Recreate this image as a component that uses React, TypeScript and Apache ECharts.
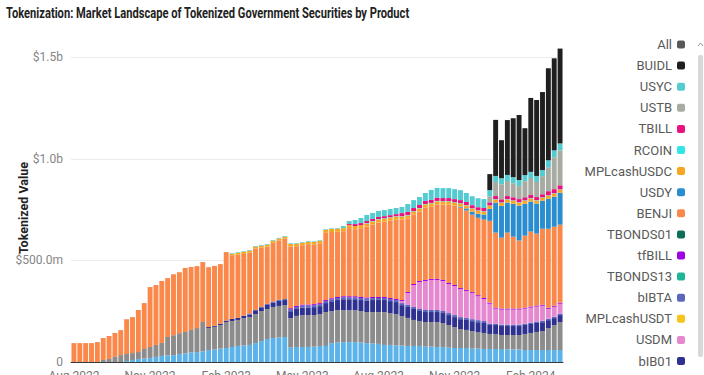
import { useEffect, useRef } from "react";
import * as echarts from "echarts";

const TITLE = "Tokenization: Market Landscape of Tokenized Government Securities by Product";
const Y_NAME = "Tokenized Value";
const MONTHS = ["Jan", "Feb", "Mar", "Apr", "May", "Jun", "Jul", "Aug", "Sep", "Oct", "Nov", "Dec"];
const START_WEEK = Date.UTC(2022, 7, 7);
const WEEK_COUNT = 84;
const CATEGORIES: string[] = Array.from({ length: WEEK_COUNT }, (_, i) =>
  new Date(START_WEEK + i * 7 * 86400000).toISOString().slice(0, 10)
);

// values in millions of USD
const OUSG = [
  0, 0, 0, 0, 0, 0, 0, 0, 0, 5,
  10, 15, 17, 20, 25, 30, 32, 34, 39, 42,
  47, 49, 52, 59, 62, 66, 69, 74, 79, 81,
  84, 93, 103, 113, 118, 121, 123, 71, 74, 74,
  74, 76, 79, 79, 93, 96, 98, 98, 98, 96,
  93, 91, 89, 84, 84, 81, 81, 79, 79, 79,
  76, 76, 74, 74, 71, 69, 69, 69, 66, 66,
  64, 64, 64, 64, 62, 62, 62, 59, 59, 59,
  59, 59, 59, 59,
];
const STBT = [
  0, 0, 0, 0, 0, 10, 15, 25, 34, 34,
  34, 34, 47, 54, 59, 64, 91, 98, 103, 106,
  111, 118, 145, 108, 111, 116, 128, 128, 128, 135,
  138, 143, 148, 148, 153, 155, 157, 145, 153, 157,
  157, 155, 157, 167, 157, 160, 157, 157, 157, 155,
  153, 155, 157, 162, 157, 155, 145, 138, 128, 123,
  121, 121, 123, 118, 111, 103, 93, 89, 86, 81,
  79, 74, 74, 69, 71, 71, 71, 79, 84, 89,
  93, 108, 123, 138,
];
const BIB01 = [
  0, 0, 0, 0, 0, 0, 0, 0, 0, 0,
  0, 0, 0, 0, 0, 0, 0, 0, 0, 0,
  0, 0, 0, 5, 5, 7, 7, 10, 10, 12,
  12, 15, 15, 20, 22, 25, 25, 34, 34, 37,
  37, 39, 39, 44, 49, 49, 54, 54, 54, 54,
  57, 59, 59, 59, 59, 59, 54, 54, 54, 49,
  49, 49, 49, 49, 49, 49, 49, 49, 49, 49,
  49, 44, 44, 44, 44, 44, 44, 44, 44, 44,
  44, 39, 34, 34,
];
const BIBTA = [
  0, 0, 0, 0, 0, 0, 0, 0, 0, 0,
  0, 0, 0, 0, 0, 0, 0, 0, 0, 0,
  0, 0, 0, 0, 0, 0, 0, 0, 0, 0,
  5, 5, 5, 5, 5, 5, 5, 10, 10, 10,
  10, 10, 10, 10, 10, 10, 10, 10, 10, 10,
  10, 10, 10, 10, 10, 10, 10, 10, 10, 10,
  10, 10, 10, 10, 10, 10, 10, 10, 10, 10,
  10, 7, 7, 7, 7, 7, 7, 7, 7, 7,
  7, 7, 7, 7,
];
const USDM = [
  0, 0, 0, 0, 0, 0, 0, 0, 0, 0,
  0, 0, 0, 0, 0, 0, 0, 0, 0, 0,
  0, 0, 0, 0, 0, 0, 0, 0, 0, 0,
  0, 0, 0, 0, 0, 0, 0, 0, 0, 0,
  0, 0, 0, 0, 0, 0, 0, 0, 0, 0,
  0, 0, 0, 0, 0, 0, 10, 59, 108, 133,
  143, 148, 148, 148, 143, 143, 138, 133, 128, 118,
  108, 98, 74, 74, 74, 74, 74, 74, 74, 74,
  74, 49, 49, 49,
];
const TFBILL = [
  0, 0, 0, 0, 0, 0, 0, 0, 0, 0,
  0, 0, 0, 0, 0, 0, 0, 0, 0, 0,
  0, 0, 0, 0, 0, 0, 0, 0, 0, 0,
  0, 0, 0, 0, 0, 0, 0, 5, 5, 5,
  5, 5, 5, 5, 5, 5, 5, 5, 5, 5,
  5, 5, 5, 5, 5, 5, 5, 5, 5, 5,
  5, 5, 5, 5, 5, 5, 5, 5, 5, 5,
  5, 5, 5, 5, 5, 5, 5, 5, 5, 5,
  5, 5, 5, 5,
];
const BENJI = [
  93, 93, 93, 93, 98, 108, 113, 118, 123, 172,
  177, 207, 226, 295, 295, 305, 290, 300, 300, 315,
  310, 305, 295, 295, 295, 293, 337, 314, 311, 304,
  299, 302, 292, 282, 289, 292, 297, 304, 294, 292,
  297, 294, 294, 331, 326, 321, 320, 335, 330, 339,
  349, 357, 367, 371, 381, 391, 396, 362, 342, 342,
  357, 357, 367, 371, 386, 391, 396, 391, 381, 381,
  386, 403, 369, 349, 374, 354, 335, 354, 369, 354,
  374, 389, 389, 384,
];
const USDY = [
  0, 0, 0, 0, 0, 0, 0, 0, 0, 0,
  0, 0, 0, 0, 0, 0, 0, 0, 0, 0,
  0, 0, 0, 0, 0, 0, 0, 0, 0, 0,
  0, 0, 0, 0, 0, 0, 0, 0, 0, 0,
  0, 0, 0, 0, 0, 0, 0, 0, 0, 0,
  0, 0, 0, 0, 0, 0, 0, 0, 0, 0,
  0, 0, 0, 0, 0, 0, 5, 10, 15, 20,
  25, 59, 148, 157, 148, 162, 172, 157, 148, 148,
  138, 148, 148, 157,
];
const MPLCASH_USDC = [
  0, 0, 0, 0, 0, 0, 0, 0, 0, 0,
  0, 0, 0, 0, 0, 0, 0, 0, 0, 0,
  0, 0, 0, 0, 0, 0, 0, 7, 10, 10,
  10, 10, 10, 10, 10, 10, 10, 12, 12, 12,
  12, 12, 12, 15, 15, 15, 15, 15, 15, 15,
  15, 15, 15, 15, 15, 15, 15, 15, 15, 15,
  15, 15, 15, 15, 15, 15, 15, 15, 15, 15,
  15, 15, 15, 15, 15, 15, 15, 15, 15, 15,
  15, 15, 15, 15,
];
const RCOIN = [
  0, 0, 0, 0, 0, 0, 0, 0, 0, 0,
  0, 0, 0, 0, 0, 0, 0, 0, 0, 0,
  0, 0, 0, 0, 0, 0, 0, 0, 0, 0,
  0, 0, 0, 0, 0, 0, 0, 0, 0, 0,
  0, 0, 0, 0, 0, 0, 0, 0, 0, 0,
  2, 2, 2, 2, 2, 2, 2, 2, 2, 2,
  2, 2, 2, 2, 2, 2, 2, 2, 2, 2,
  2, 2, 2, 2, 2, 2, 2, 2, 2, 2,
  2, 2, 2, 2,
];
const TBILL = [
  0, 0, 0, 0, 0, 0, 0, 0, 0, 0,
  0, 0, 0, 0, 0, 0, 0, 0, 0, 0,
  0, 0, 0, 0, 0, 0, 0, 0, 0, 0,
  0, 0, 0, 0, 0, 0, 0, 0, 0, 0,
  0, 0, 0, 0, 0, 0, 0, 5, 10, 10,
  10, 10, 10, 10, 10, 10, 15, 15, 15, 15,
  15, 15, 15, 15, 15, 15, 15, 15, 15, 15,
  15, 15, 15, 15, 15, 15, 15, 15, 15, 15,
  15, 20, 20, 20,
];
const USTB = [
  0, 0, 0, 0, 0, 0, 0, 0, 0, 0,
  0, 0, 0, 0, 0, 0, 0, 0, 0, 0,
  0, 0, 0, 0, 0, 0, 0, 0, 0, 0,
  0, 0, 0, 0, 0, 0, 0, 0, 0, 0,
  0, 0, 0, 0, 0, 0, 0, 0, 0, 0,
  0, 0, 0, 0, 0, 0, 0, 0, 0, 0,
  0, 0, 0, 0, 0, 0, 0, 0, 0, 0,
  0, 30, 69, 74, 74, 69, 64, 79, 84, 74,
  89, 118, 157, 172,
];
const USYC = [
  0, 0, 0, 0, 0, 0, 0, 0, 0, 0,
  0, 0, 0, 0, 0, 0, 0, 0, 0, 0,
  0, 0, 0, 0, 0, 0, 0, 3, 3, 3,
  3, 3, 3, 3, 3, 3, 3, 3, 3, 3,
  3, 3, 3, 3, 3, 3, 10, 15, 20, 25,
  30, 30, 30, 30, 30, 30, 30, 39, 39, 39,
  39, 49, 49, 49, 49, 49, 49, 44, 44, 44,
  44, 30, 30, 30, 30, 30, 30, 30, 30, 30,
  30, 34, 34, 34,
];
const BUIDL = [
  0, 0, 0, 0, 0, 0, 0, 0, 0, 0,
  0, 0, 0, 0, 0, 0, 0, 0, 0, 0,
  0, 0, 0, 0, 0, 0, 0, 0, 0, 0,
  0, 0, 0, 0, 0, 0, 0, 0, 0, 0,
  0, 0, 0, 0, 0, 0, 0, 0, 0, 0,
  0, 0, 0, 0, 0, 0, 0, 0, 0, 0,
  0, 0, 0, 0, 0, 0, 0, 0, 0, 0,
  0, 79, 276, 187, 270, 290, 320, 231, 364, 374,
  384, 453, 453, 467,
];
const EMPTY: number[] = [];

const LEGEND_ITEMS = [
  "All", "BUIDL", "USYC", "USTB", "TBILL", "RCOIN", "MPLcashUSDC", "USDY", "BENJI",
  "TBONDS01", "tfBILL", "TBONDS13", "bIBTA", "MPLcashUSDT", "USDM", "bIB01",
];

// stacking order, bottom to top
const SERIES_DEFS: { name: string; color: string; data: number[] }[] = [
  { name: "All", color: "#595959", data: EMPTY },
  { name: "OUSG", color: "#5cb3ea", data: OUSG },
  { name: "STBT", color: "#8c8c8c", data: STBT },
  { name: "bIB01", color: "#2f3190", data: BIB01 },
  { name: "bIBTA", color: "#5c66bd", data: BIBTA },
  { name: "USDM", color: "#e688d0", data: USDM },
  { name: "MPLcashUSDT", color: "#f6c41c", data: EMPTY },
  { name: "TBONDS13", color: "#1fb498", data: EMPTY },
  { name: "tfBILL", color: "#a000e4", data: TFBILL },
  { name: "TBONDS01", color: "#0b6e5b", data: EMPTY },
  { name: "BENJI", color: "#f9884a", data: BENJI },
  { name: "USDY", color: "#2a8dcf", data: USDY },
  { name: "MPLcashUSDC", color: "#f6a623", data: MPLCASH_USDC },
  { name: "RCOIN", color: "#2fe6e6", data: RCOIN },
  { name: "TBILL", color: "#e8127f", data: TBILL },
  { name: "USTB", color: "#a8aba2", data: USTB },
  { name: "USYC", color: "#53cbd0", data: USYC },
  { name: "BUIDL", color: "#1f1f1f", data: BUIDL },
];

function fmtMoney(v: number): string {
  if (v === 0) return "0";
  if (v >= 1000) return "$" + (v / 1000).toFixed(1) + "b";
  return "$" + v.toFixed(1) + "m";
}

export default function App() {
  const ref = useRef<HTMLDivElement>(null);
  useEffect(() => {
    if (!ref.current) return;
    const chart = echarts.init(ref.current, undefined, { renderer: "svg" });
    const titleFont = "bold 14px Roboto";
    let titleScale = 0.75;
    try {
      const ctx = document.createElement("canvas").getContext("2d");
      if (ctx) {
        ctx.font = titleFont;
        const w = ctx.measureText(TITLE).width;
        if (w > 0) titleScale = 404 / w;
      }
    } catch (e) {}

    chart.setOption({
      animation: false,
      backgroundColor: "#ffffff",
      grid: { left: 71, right: 141, top: 37, bottom: 13, outerBoundsMode: "none" },
      legend: {
        data: LEGEND_ITEMS,
        orient: "vertical",
        right: 19,
        top: 38,
        height: 337,
        padding: 0,
        align: "right",
        itemWidth: 8,
        itemHeight: 8,
        itemGap: 8.1,
        icon: "roundRect",
        selectedMode: false,
        textStyle: { color: "#5a5a5a", fontSize: 13, fontFamily: "Roboto", lineHeight: 13 },
      },
      xAxis: {
        type: "category",
        data: CATEGORIES,
        axisTick: { show: false },
        axisLine: { lineStyle: { color: "#3a3a3a", width: 1 } },
        axisLabel: {
          interval: 12,
          margin: 8,
          color: "#777777",
          fontSize: 12,
          fontFamily: "Roboto",
          formatter: (v: string) => {
            const d = new Date(v + "T00:00:00Z");
            return MONTHS[d.getUTCMonth()] + " " + d.getUTCFullYear();
          },
        },
      },
      yAxis: {
        type: "value",
        min: 0,
        max: 1600,
        interval: 500,
        axisLine: { show: false },
        axisTick: { show: false },
        axisLabel: {
          margin: 8,
          color: "#858585",
          fontSize: 12,
          fontFamily: "Roboto",
          showMaxLabel: false,
          formatter: (v: number) => fmtMoney(v),
        },
        splitLine: { showMaxLine: false, lineStyle: { color: "#ebebeb", width: 1 } },
      },
      series: SERIES_DEFS.map((s) => ({
        name: s.name,
        type: "bar",
        stack: "total",
        data: s.data,
        barCategoryGap: "16%",
        itemStyle: { color: s.color },
        emphasis: { disabled: true },
      })),
      graphic: [
        {
          type: "text",
          x: 6,
          y: 13,
          scaleX: titleScale,
          style: { text: TITLE, font: titleFont, fill: "#222222", textAlign: "left", textVerticalAlign: "middle" },
        },
        {
          type: "text",
          x: 23,
          y: 208,
          rotation: Math.PI / 2,
          style: { text: Y_NAME, font: "bold 12.5px Roboto", fill: "#222222", textAlign: "center", textVerticalAlign: "middle" },
        },
        {
          type: "rect",
          shape: { x: 698, y: 55, width: 5, height: 302, r: 2 },
          style: { fill: "#d8d8d8" },
        },
        {
          type: "polyline",
          shape: { points: [[698, 46], [700.5, 43], [703, 46]] },
          style: { stroke: "#999999", lineWidth: 1, fill: null },
        },
      ],
    });
    return () => chart.dispose();
  }, []);
  return <div ref={ref} style={{ position: "fixed", left: 0, top: 0, width: 704, height: 375 }} />;
}
